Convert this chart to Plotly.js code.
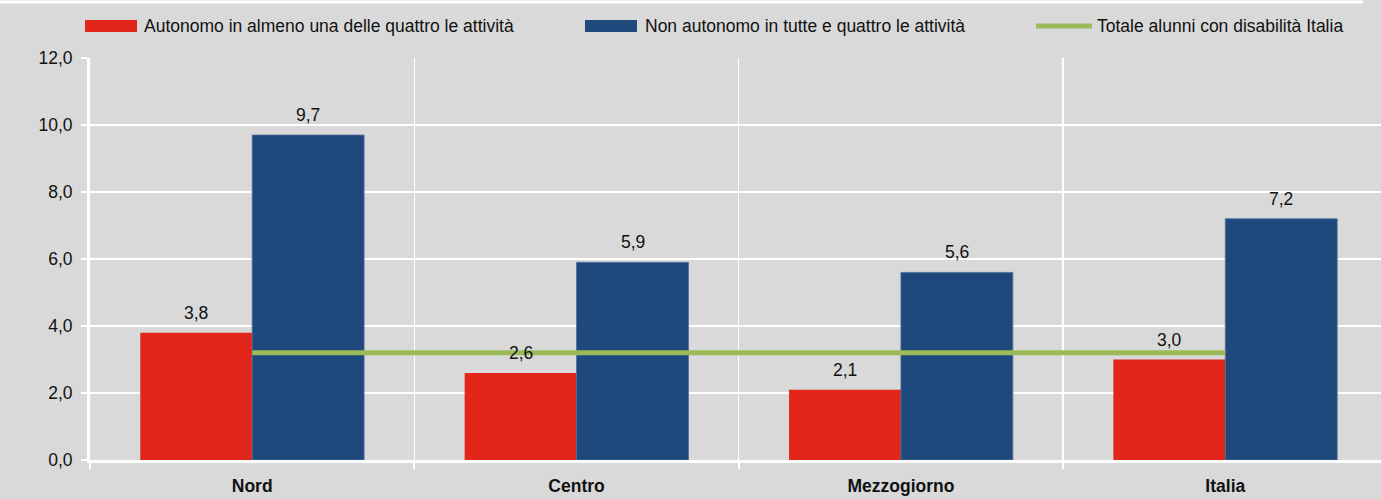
<!DOCTYPE html>
<html>
<head>
<meta charset="utf-8">
<script src="https://cdn.plot.ly/plotly-3.0.1.min.js"></script>
<style>
  html, body { margin: 0; padding: 0; background: #d9d9d9; }
  #chart { width: 1381px; height: 499px; }
</style>
</head>
<body>
<div id="chart"></div>
<script>
// Data
const categories = ['Nord', 'Centro', 'Mezzogiorno', 'Italia'];
const autonomo = [3.8, 2.6, 2.1, 3.0];
const nonAutonomo = [9.7, 5.9, 5.6, 7.2];
const totaleItalia = [3.2, 3.2, 3.2, 3.2];
const seriesNames = [
    'Autonomo in almeno una delle quattro le attività',
    'Non autonomo in tutte e quattro le attività',
    'Totale alunni con disabilità Italia'
];
const yTicks = [0, 2, 4, 6, 8, 10, 12];

const RED = '#e2271a';
const BLUE = '#1f497d';
const GREEN = '#9bbb59';
const FONT = '"Liberation Sans Narrow", "Arial Narrow", "Liberation Sans", Arial, sans-serif';
const FS = 17.5;

const W = 1381, H = 499;
const margin = { l: 90, r: 0, t: 58, b: 39 };
const plotW = W - margin.l - margin.r;
const plotH = H - margin.t - margin.b;
const bargap = 0.31;

// pixel -> paper helpers for the hand made legend
const px = x => (x - margin.l) / plotW;
const py = y => (H - margin.b - y) / plotH;

const fmt = v => v.toFixed(1).replace('.', ',');

const traces = [
    {
        type: 'bar', x: categories, y: autonomo, name: seriesNames[0],
        marker: { color: RED }, hoverinfo: 'y', showlegend: false
    },
    {
        type: 'bar', x: categories, y: nonAutonomo, name: seriesNames[1],
        marker: { color: BLUE, line: { color: '#4d6d99', width: 0.8 } },
        hoverinfo: 'y', showlegend: false
    },
    {
        type: 'scatter', mode: 'lines', x: categories, y: totaleItalia, name: seriesNames[2],
        line: { color: GREEN, width: 5 }, hoverinfo: 'y', showlegend: false
    }
];

// value labels above the bars
const offset = (1 - bargap) / 4;
const annotations = [];
[autonomo, nonAutonomo].forEach((vals, s) => {
    vals.forEach((v, i) => {
        annotations.push({
            x: i + (s === 0 ? -offset : offset), y: v, xref: 'x', yref: 'y',
            text: fmt(v), showarrow: false, yanchor: 'bottom', yshift: 8,
            font: { family: FONT, size: FS, color: '#111' }
        });
    });
});

// legend drawn by hand (wide swatches like the original)
const legendItems = [
    { color: RED, x0: 85, x1: 137, kind: 'rect', textX: 142 },
    { color: BLUE, x0: 585, x1: 637, kind: 'rect', textX: 643 },
    { color: GREEN, x0: 1036, x1: 1092, kind: 'line', textX: 1095 }
];
const legendY = 26;
const shapes = [
    // white rule on top of the figure
    { type: 'line', xref: 'paper', yref: 'paper', x0: px(0), x1: px(1363), y0: py(2), y1: py(2),
      line: { color: '#ffffff', width: 3 } }
];
legendItems.forEach((it, k) => {
    if (it.kind === 'rect') {
        shapes.push({ type: 'rect', xref: 'paper', yref: 'paper',
            x0: px(it.x0), x1: px(it.x1), y0: py(legendY + 6), y1: py(legendY - 6),
            fillcolor: it.color, line: { width: 0 } });
    } else {
        shapes.push({ type: 'line', xref: 'paper', yref: 'paper',
            x0: px(it.x0), x1: px(it.x1), y0: py(legendY), y1: py(legendY),
            line: { color: it.color, width: 5 } });
    }
    annotations.push({
        xref: 'paper', yref: 'paper', x: px(it.textX), y: py(legendY),
        xanchor: 'left', yanchor: 'middle', showarrow: false, text: seriesNames[k],
        font: { family: FONT, size: FS, color: '#111' }
    });
});

const layout = {
    width: W, height: H,
    margin: margin,
    paper_bgcolor: '#d9d9d9',
    plot_bgcolor: '#d9d9d9',
    separators: ',.',
    font: { family: FONT, size: FS, color: '#111' },
    barmode: 'group',
    bargap: bargap,
    bargroupgap: 0,
    showlegend: false,
    xaxis: {
        type: 'category',
        range: [-0.5, 3.48],
        tickson: 'boundaries',
        ticks: 'outside', ticklen: 6, tickcolor: '#ffffff', tickwidth: 2,
        ticklabelstandoff: 8,
        showgrid: true, gridcolor: '#ffffff', gridwidth: 1.5,
        showline: true, linecolor: '#ffffff', linewidth: 3,
        tickfont: { family: FONT, size: FS, color: '#111', weight: 'bold' },
        fixedrange: true
    },
    yaxis: {
        range: [0, 12],
        tickvals: yTicks,
        tickformat: '.1f',
        ticks: 'outside', ticklen: 6, tickcolor: '#ffffff', tickwidth: 2,
        ticklabelstandoff: 5,
        showgrid: true, gridcolor: '#ffffff', gridwidth: 1.5,
        zeroline: false,
        showline: true, linecolor: '#ffffff', linewidth: 3,
        tickfont: { family: FONT, size: FS, color: '#111' },
        fixedrange: true
    },
    shapes: shapes,
    annotations: annotations
};

Plotly.newPlot('chart', traces, layout, { displayModeBar: false, staticPlot: true });
</script>
</body>
</html>
